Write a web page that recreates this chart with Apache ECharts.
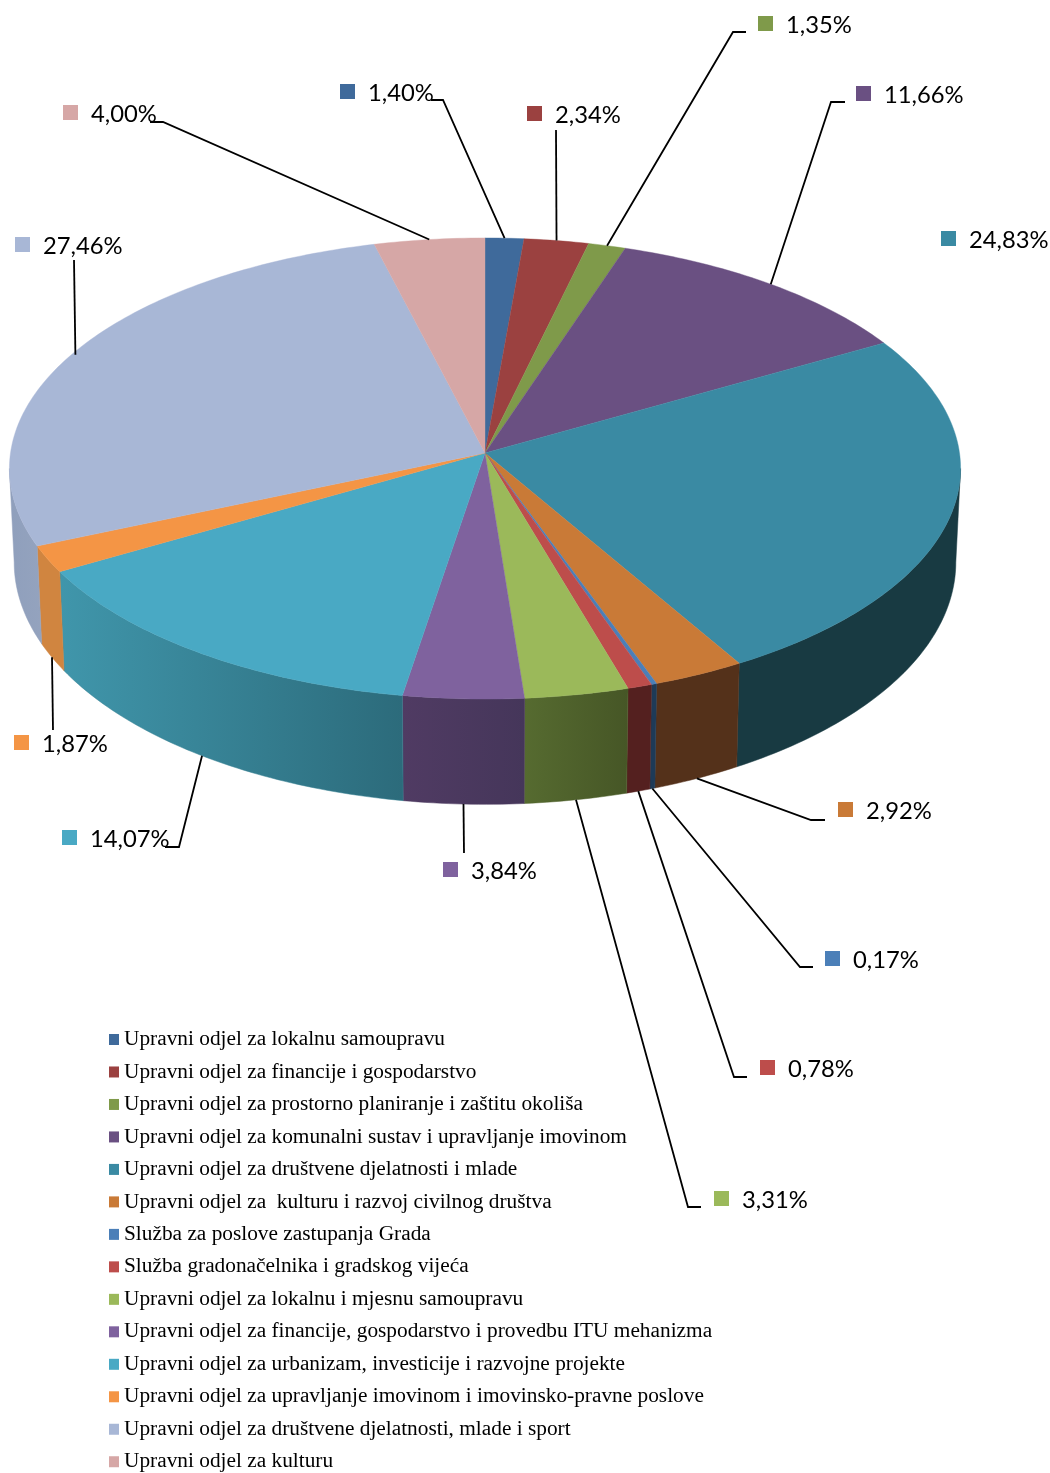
<!DOCTYPE html>
<html>
<head>
<meta charset="utf-8">
<style>html,body{margin:0;padding:0;background:#fff}#chart{width:1050px;height:1473px}</style>
<script src="https://cdn.jsdelivr.net/npm/echarts@6/dist/echarts.min.js"></script>
</head>
<body>
<div id="chart"></div>
<script>
// ---- data ----
const departments = [
  'Upravni odjel za lokalnu samoupravu',
  'Upravni odjel za financije i gospodarstvo',
  'Upravni odjel za prostorno planiranje i zaštitu okoliša',
  'Upravni odjel za komunalni sustav i upravljanje imovinom',
  'Upravni odjel za društvene djelatnosti i mlade',
  'Upravni odjel za  kulturu i razvoj civilnog društva',
  'Služba za poslove zastupanja Grada',
  'Služba gradonačelnika i gradskog vijeća',
  'Upravni odjel za lokalnu i mjesnu samoupravu',
  'Upravni odjel za financije, gospodarstvo i provedbu ITU mehanizma',
  'Upravni odjel za urbanizam, investicije i razvojne projekte',
  'Upravni odjel za upravljanje imovinom i imovinsko-pravne poslove',
  'Upravni odjel za društvene djelatnosti, mlade i sport',
  'Upravni odjel za kulturu'
];
const shares = [1.40, 2.34, 1.35, 11.66, 24.83, 2.92, 0.17, 0.78, 3.31, 3.84, 14.07, 1.87, 27.46, 4.00];

// ---- styles ----
const topColors = ['#3F6A9B','#9B4140','#7F9A4A','#6A5082','#3A8AA3','#C97A37','#4B7FB8','#BD4D4B','#9BB95A','#7F629E','#49A9C4','#F49545','#A8B7D6','#D6A7A6'];
const wallLeft  = ['#2A476A','#6A2C2B','#566932','#483658','#183A42','#54311A','#1E3A57','#54201F','#566B30','#503B63','#4096AB','#D08540','#8F9FBC','#A88484'];
const wallRight = ['#2A476A','#6A2C2B','#566932','#483658','#183A42','#54311A','#1E3A57','#54201F','#465626','#45365A','#2C6B7B','#D08540','#94A3BE','#A88484'];

// ---- layout ----
const pieCenter = [485, 453];
const rimScale = { R: 474.5, S: 229.5, k: 0.0672 };
const baseShape = { sx: 0.99, sy: 1.05, cy: 546 };
const swatchPos = [[340,84],[527,106],[758,16],[856,86],[941,231],[838,802],[825,951],[760,1060],[714,1191],[443,862],[62,830],[14,735],[15,237],[63,105]];
const swatchSize = 15;
const textGap = 28;
const leaderRim = ['top','top','top','top',null,'base','base','base','base','base','base','base','top','top'];
const leaderNudge = [0,0,0,0,0,0,0,0,0,0,0,0,4,0];
const leaderBends = [
  [[443,100],[431,100]],
  [[556,130]],
  [[733,32],[746,32]],
  [[831,102],[845,102]],
  null,
  [[811,820],[825,820]],
  [[800,967],[813,967]],
  [[734,1077],[747,1077]],
  [[688,1207],[701,1207]],
  [[464,853]],
  [[179,847],[165,847]],
  [[53,730]],
  [[74,260]],
  [[163,122],[150,122]]
];

// ---- geometry: perspective projection of a circle; angle comes from cumulative share ----
const startAt = [];
shares.reduce(function (sum, v, i) { startAt[i] = sum; return sum + v; }, 0);

// the visible wall runs between the two points where the rim is vertical on screen
const tangentShift = Math.asin(rimScale.k) / (2 * Math.PI) * 100;
const frontArc = [25 + tangentShift, 75 - tangentShift];

function rimPoint(pct) {
  const t = pct / 100 * 2 * Math.PI;
  const u = Math.sin(t), v = Math.cos(t), w = 1 + rimScale.k * v;
  return [pieCenter[0] + rimScale.R * u / w, pieCenter[1] - rimScale.S * v / w];
}
function basePoint(pct) {
  const p = rimPoint(pct);
  return [pieCenter[0] + (p[0] - pieCenter[0]) * baseShape.sx, baseShape.cy + (p[1] - pieCenter[1]) * baseShape.sy];
}
function arcPoints(start, value, fn) {
  const n = Math.max(2, Math.ceil(value * 4));
  const pts = [];
  for (let j = 0; j <= n; j++) pts.push(fn(start + value * j / n));
  return pts;
}
function hGradient(a, b) {
  return { type: 'linear', x: 0, y: 0, x2: 1, y2: 0, colorStops: [{ offset: 0, color: a }, { offset: 1, color: b }] };
}

const wallSeries = {
  type: 'custom', name: 'walls', coordinateSystem: 'none', z: 1, silent: true,
  data: shares.map(function (v, i) { return [v, startAt[i], i]; }),
  renderItem: function (params, api) {
    const v = api.value(0), s = api.value(1), i = api.value(2);
    const from = Math.max(s, frontArc[0]), to = Math.min(s + v, frontArc[1]);
    if (to <= from) return null;
    const top = arcPoints(from, to - from, rimPoint);
    const base = arcPoints(from, to - from, basePoint).reverse();
    return {
      type: 'polygon',
      shape: { points: top.concat(base) },
      style: { fill: hGradient(wallLeft[i], wallRight[i]), stroke: echarts.color.lerp(0.5, [wallLeft[i], wallRight[i]]), lineWidth: 0.5 }
    };
  }
};

const topSeries = departments.map(function (name, i) {
  return {
    type: 'custom', name: name, coordinateSystem: 'none', z: 2, silent: true,
    itemStyle: { color: topColors[i] },
    data: [[shares[i], startAt[i]]],
    renderItem: function (params, api) {
      const pts = [pieCenter].concat(arcPoints(api.value(1), api.value(0), rimPoint));
      return {
        type: 'polygon',
        shape: { points: pts },
        style: { fill: topColors[i], stroke: topColors[i], lineWidth: 0.4 }
      };
    }
  };
});

const leaderSeries = {
  type: 'custom', name: 'leaders', coordinateSystem: 'none', z: 3, silent: true,
  data: shares.map(function (v, i) { return [v, startAt[i], i]; }),
  renderItem: function (params, api) {
    const v = api.value(0), s = api.value(1), i = api.value(2);
    if (!leaderRim[i]) return null;
    const a = (leaderRim[i] === 'top' ? rimPoint : basePoint)(s + v / 2);
    const pts = [[a[0] + leaderNudge[i], a[1]]].concat(leaderBends[i]);
    return { type: 'polyline', shape: { points: pts }, style: { stroke: '#000', lineWidth: 1.8, fill: null } };
  }
};

const labelSeries = {
  type: 'custom', name: 'labels', coordinateSystem: 'none', z: 4, silent: true,
  data: shares.map(function (v, i) { return [v, i]; }),
  renderItem: function (params, api) {
    const v = api.value(0), i = api.value(1), p = swatchPos[i];
    return {
      type: 'group',
      children: [
        { type: 'rect', shape: { x: p[0], y: p[1], width: swatchSize, height: swatchSize }, style: { fill: topColors[i] } },
        { type: 'text', x: p[0] + textGap, y: p[1] + swatchSize / 2 + 2,
          style: { text: v.toFixed(2).replace('.', ',') + '%', fill: '#000', font: '23.8px Lato, "Open Sans", sans-serif', textAlign: 'left', textVerticalAlign: 'middle' } }
      ]
    };
  }
};

const chart = echarts.init(document.getElementById('chart'), null, { renderer: 'canvas' });
chart.setOption({
  animation: false,
  backgroundColor: '#fff',
  color: topColors,
  legend: {
    orient: 'vertical', left: 109, top: 1029, height: 444, padding: 0,
    data: departments.map(function (n) { return { name: n, icon: 'rect' }; }),
    itemWidth: 10, itemHeight: 11, itemGap: 11.48,
    selectedMode: false,
    textStyle: { fontFamily: '"Liberation Serif", serif', fontSize: 21.33, color: '#000' }
  },
  series: [wallSeries].concat(topSeries, [leaderSeries, labelSeries])
});
</script>
</body>
</html>
